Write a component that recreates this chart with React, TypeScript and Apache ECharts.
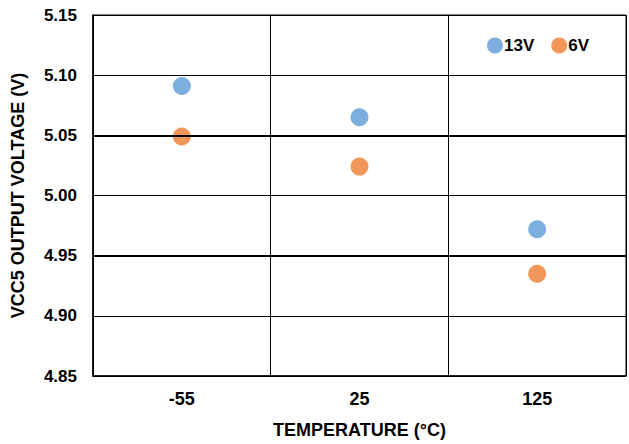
import React, { useEffect, useRef } from "react";
import * as echarts from "echarts";

const categories = ["-55", "25", "125"];
const series13V = [5.091, 5.065, 4.972];
const series6V = [5.049, 5.024, 4.935];
const yTicks = { min: 4.85, max: 5.15, interval: 0.05 };
const thickLines = [5.05, 4.95];

export default function App() {
  const ref = useRef<HTMLDivElement>(null);
  useEffect(() => {
    document.body.style.margin = "0";
    const chart = echarts.init(ref.current!, null, { renderer: "svg" });
    const font = "'Liberation Sans', Arial, sans-serif";
    chart.setOption({
      animation: false,
      backgroundColor: "#fff",
      grid: {
        left: 93, right: 3, top: 15, bottom: 67,
        show: true, borderColor: "#000", borderWidth: 1,
      },
      legend: {
        left: 482, top: 32,
        icon: "circle", itemWidth: 16, itemHeight: 16, itemGap: 17,
        textStyle: { fontFamily: font, fontWeight: "bold", fontSize: 17, color: "#000", padding: [0, 0, 0, -4] },
        data: ["13V", "6V"],
      },
      xAxis: {
        type: "category",
        data: categories,
        boundaryGap: true,
        axisLine: { lineStyle: { color: "#000", width: 1.5 } },
        axisTick: { show: false },
        axisLabel: { fontFamily: font, fontWeight: "bold", fontSize: 18, color: "#000", margin: 14 },
        splitLine: { show: true, lineStyle: { color: "#000", width: 1 } },
        name: "TEMPERATURE (°C)",
        nameLocation: "middle",
        nameGap: 45,
        nameTextStyle: { fontFamily: font, fontWeight: "bold", fontSize: 18, color: "#000" },
      },
      yAxis: {
        type: "value",
        min: yTicks.min, max: yTicks.max, interval: yTicks.interval,
        axisLine: { show: true, lineStyle: { color: "#000", width: 1.5 } },
        axisTick: { show: false },
        axisLabel: {
          fontFamily: font, fontWeight: "bold", fontSize: 17, color: "#000", margin: 16,
          formatter: (v: number) => v.toFixed(2),
        },
        splitLine: { show: true, lineStyle: { color: "#000", width: 1 } },
        name: "VCC5 OUTPUT VOLTAGE (V)",
        nameLocation: "middle",
        nameGap: 66,
        nameTextStyle: { fontFamily: font, fontWeight: "bold", fontSize: 18, color: "#000" },
      },
      series: [
        {
          name: "13V", type: "scatter", data: series13V, symbolSize: 18,
          itemStyle: { color: "#5B9BD5" },
          markLine: {
            silent: true, symbol: "none", label: { show: false },
            lineStyle: { color: "#000", width: 2, type: "solid" },
            data: thickLines.map((v) => ({ yAxis: v })),
          },
          z: 3,
        },
        {
          name: "6V", type: "scatter", data: series6V, symbolSize: 18,
          itemStyle: { color: "#ED7D31" },
          z: 3,
        },
      ],
    });
    return () => chart.dispose();
  }, []);
  return <div ref={ref} style={{ width: 629, height: 444 }} />;
}
